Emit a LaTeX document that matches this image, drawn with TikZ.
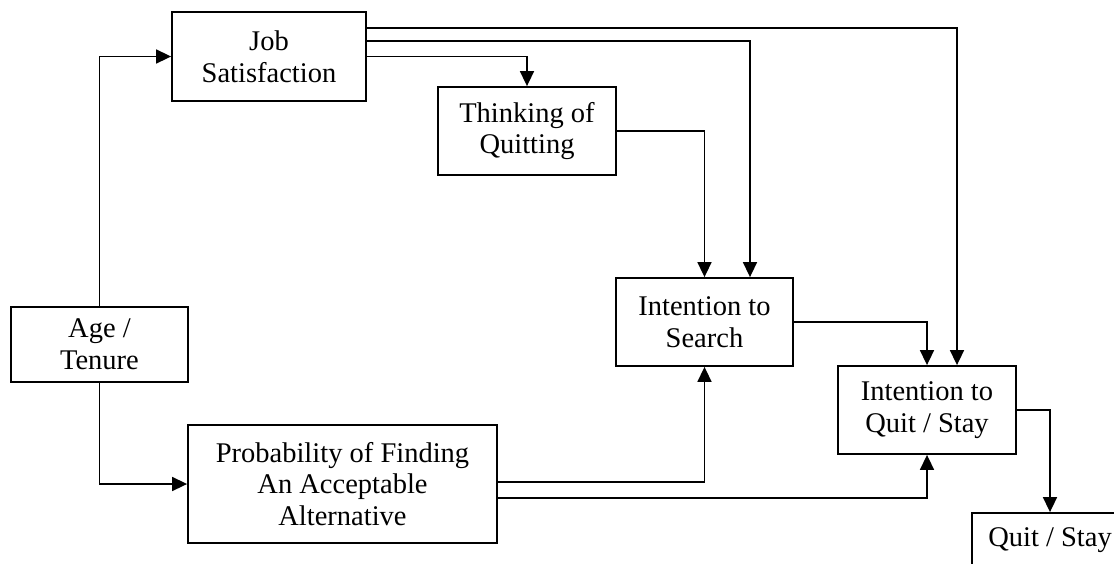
\documentclass[tikz,border=0pt]{standalone}
\usepackage{fontspec}
\setmainfont{Liberation Serif}
\usetikzlibrary{arrows.meta,calc}
\tikzset{
  box/.style={draw, line width=1.8pt, rectangle, inner sep=0pt, align=center,
    font=\fontsize{28.5}{31.7}\selectfont},
  arr/.style={line width=1.6pt, -{Triangle[length=15pt,width=14pt]}},
}
\begin{document}
\begin{tikzpicture}[x=1pt,y=-1pt]
\useasboundingbox (0,0) rectangle (1114,563);
\clip (0,0) rectangle (1114,563);
\fill[white] (0,0) rectangle (1114,563);

% boxes
\node[box, minimum width=194, minimum height=89] (js)   at (269,56.5)  {Job\\Satisfaction};
\node[box, minimum width=178, minimum height=88] (tq)   at (527,131)   {Thinking of\\Quitting};
\node[box, minimum width=177, minimum height=75] (age)  at (99.5,344.5) {Age /\\Tenure};
\node[box, minimum width=309, minimum height=118] (prob) at (342.5,484) {Probability of Finding\\An Acceptable\\Alternative};
\node[box, minimum width=177, minimum height=88] (is)   at (704.5,322) {Intention to\\Search};
\node[box, minimum width=178, minimum height=88] (iqs)  at (927,410)   {Intention to\\Quit / Stay};
\node[box, minimum width=156, minimum height=54] (qs)   at (1050,540)  {Quit / Stay};

% connectors
\draw[arr] (age.north) |- (js.west);
\draw[arr] (age.south) |- (prob.west);
\draw[arr] ($(js.north east)+(0,17)$) -| ($(iqs.north)+(30,0)$);
\draw[arr] ($(js.north east)+(0,30)$) -| ($(is.north)+(45.5,0)$);
\draw[arr] (js.east) -| (tq.north);
\draw[arr] (tq.east) -| (is.north);
\draw[arr] (is.east) -| (iqs.north);
\draw[arr] ($(prob.east)+(0,-2)$) -| (is.south);
\draw[arr] ($(prob.east)+(0,14)$) -| (iqs.south);
\draw[arr] (iqs.east) -| (qs.north);
\end{tikzpicture}
\end{document}
